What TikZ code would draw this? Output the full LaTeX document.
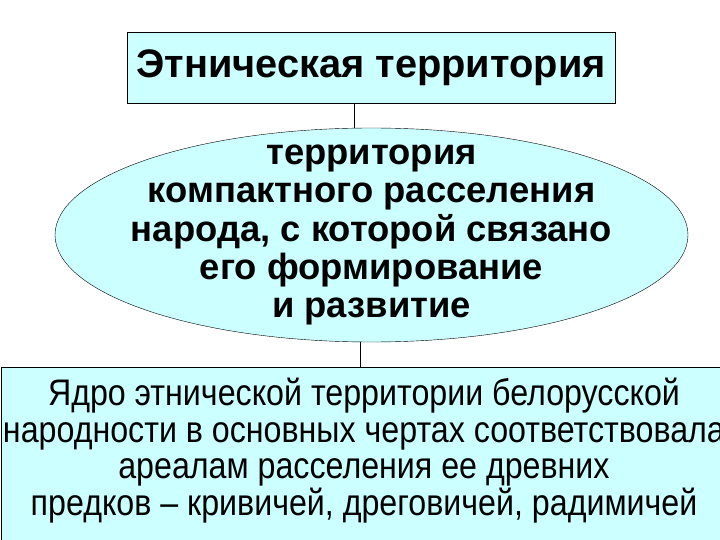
\documentclass[tikz,border=0pt]{standalone}
\usepackage{fontspec}
\setmainfont{Liberation Sans}
\newfontfamily\narrowfont[FakeStretch=0.87]{Liberation Sans}
\usetikzlibrary{shapes.geometric}
\definecolor{paleCyan}{RGB}{204,255,255}
\tikzset{
  titlebox/.style={draw, thin, fill=paleCyan, rectangle, inner sep=0pt,
    minimum width=488pt, minimum height=71pt,
    font=\fontsize{39.8}{41}\selectfont\bfseries},
  defnoval/.style={draw, thin, fill=paleCyan, ellipse, inner xsep=-30pt, inner ysep=-35pt,
    minimum width=633pt, minimum height=214pt, align=center,
    font=\fontsize{36.4}{38.2}\selectfont\bfseries},
  corebox/.style={draw, thin, fill=paleCyan, rectangle, inner sep=0pt,
    minimum width=726pt, minimum height=180pt, align=center,
    font=\narrowfont\fontsize{37}{36.7}\selectfont}
}
\begin{document}
\begin{tikzpicture}[x=1pt, y=-1pt]
\useasboundingbox[fill=white] (0,0) rectangle (720,540);
\node[titlebox] (title) at (371,68){Этническая территория};
\node[defnoval] (defn) at (371.5,235){территория\\компактного расселения\\народа, с которой связано\\его формирование\\и развитие};
\node[corebox] (core) at (364,457){Ядро этнической территории белорусской\\народности в основных чертах соответствовала\\ареалам расселения ее древних\\предков – кривичей, дреговичей, радимичей\\[-16pt]};
\draw[thin] ([xshift=-17pt]title.south) -- ([xshift=-17pt]title.south |- defn.north);
\draw[thin] ([xshift=-11.5pt]defn.south) -- ([xshift=-11.5pt]defn.south |- core.north);
\end{tikzpicture}
\end{document}
